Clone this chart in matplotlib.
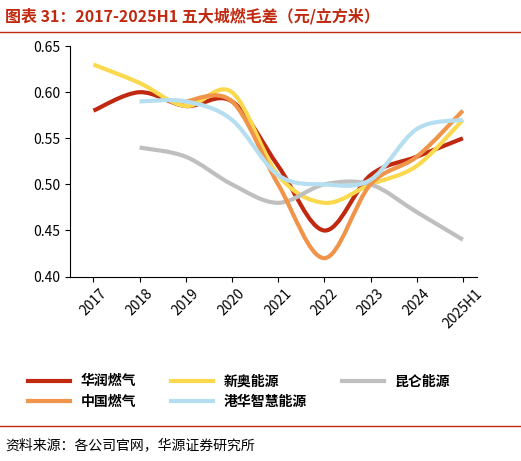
import matplotlib
matplotlib.use("Agg")
import matplotlib.pyplot as plt
import numpy as np
from matplotlib.path import Path
from matplotlib.patches import PathPatch

plt.rcParams['font.family'] = ['Noto Sans CJK SC', 'DejaVu Sans']

years = ['2017', '2018', '2019', '2020', '2021', '2022', '2023', '2024', '2025H1']
huarun = [0.58, 0.60, 0.585, 0.59, 0.52, 0.45, 0.51, 0.53, 0.55]
xinao = [0.63, 0.61, 0.585, 0.60, 0.51, 0.48, 0.50, 0.52, 0.57]
kunlun = [None, 0.54, 0.53, 0.50, 0.48, 0.50, 0.50, 0.47, 0.44]
zhongguo = [None, None, 0.59, 0.59, 0.50, 0.42, 0.50, 0.53, 0.58]
ganghua = [None, 0.59, 0.59, 0.57, 0.51, 0.50, 0.505, 0.56, 0.57]

series = [
    ('华润燃气', huarun, '#c0290f'),
    ('新奥能源', xinao, '#fbd94f'),
    ('昆仑能源', kunlun, '#bfbfbf'),
    ('中国燃气', zhongguo, '#f0944a'),
    ('港华智慧能源', ganghua, '#b5dff0'),
]

fig = plt.figure(figsize=(5.21, 4.61), dpi=100)
ax = fig.add_axes([0.135, 0.40, 0.78, 0.50])

def smooth_path(xs, ys):
    verts = [(xs[0], ys[0])]
    codes = [Path.MOVETO]
    n = len(xs)
    for i in range(n - 1):
        p0 = (xs[i-1], ys[i-1]) if i > 0 else (xs[i], ys[i])
        p1 = (xs[i], ys[i]); p2 = (xs[i+1], ys[i+1])
        p3 = (xs[i+2], ys[i+2]) if i + 2 < n else p2
        c1 = (p1[0] + (p2[0]-p0[0])/6, p1[1] + (p2[1]-p0[1])/6)
        c2 = (p2[0] - (p3[0]-p1[0])/6, p2[1] - (p3[1]-p1[1])/6)
        verts += [c1, c2, p2]
        codes += [Path.CURVE4]*3
    return Path(verts, codes)

handles = {}
for name, vals, col in series:
    xs = [i for i, v in enumerate(vals) if v is not None]
    ys = [v for v in vals if v is not None]
    patch = PathPatch(smooth_path(xs, ys), fill=False, edgecolor=col, lw=3)
    ax.add_patch(patch)
    h, = ax.plot([], [], color=col, lw=3, label=name)
    handles[name] = h

ax.set_xlim(-0.5, 8.3)
ax.set_ylim(0.40, 0.65)
ax.set_yticks(np.arange(0.40, 0.651, 0.05))
ax.set_yticklabels([f'{v:.2f}' for v in np.arange(0.40, 0.651, 0.05)], fontsize=10)
ax.set_xticks(range(len(years)))
ax.set_xticklabels(years, rotation=45, fontsize=10)
for s in ['top', 'right']:
    ax.spines[s].set_visible(False)
ax.tick_params(direction='out')

order = ['华润燃气', '中国燃气', '新奥能源', '港华智慧能源', '昆仑能源']
fig.legend(handles=[handles[k] for k in order], loc='upper left', bbox_to_anchor=(0.03, 0.215), ncol=3,
           frameon=False, handlelength=3, columnspacing=2.5, prop={'weight': 'bold', 'size': 10})

fig.text(0.01, 0.965, '图表 31：2017-2025H1 五大城燃毛差（元/立方米）', color='#c0290f',
         fontsize=11.5, fontweight='bold', va='center')
fig.add_artist(plt.Line2D([0, 1], [0.93, 0.93], color='#c0290f', lw=1))
fig.add_artist(plt.Line2D([0, 1], [0.075, 0.075], color='#c0290f', lw=1))
fig.text(0.01, 0.035, '资料来源：各公司官网，华源证券研究所', fontsize=10, va='center')

fig.savefig('out.png', dpi=100)
